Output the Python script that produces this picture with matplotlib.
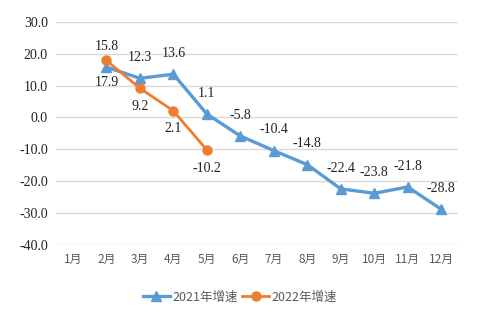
import matplotlib.pyplot as plt

months = ["1月", "2月", "3月", "4月", "5月", "6月", "7月", "8月", "9月", "10月", "11月", "12月"]
x21 = ["2月", "3月", "4月", "5月", "6月", "7月", "8月", "9月", "10月", "11月", "12月"]
y21 = [15.8, 12.3, 13.6, 1.1, -5.8, -10.4, -14.8, -22.4, -23.8, -21.8, -28.8]
x22 = ["2月", "3月", "4月", "5月"]
y22 = [17.9, 9.2, 2.1, -10.2]
yticks = [30, 20, 10, 0, -10, -20, -30, -40]

blue = "#5B9BD5"
orange = "#ED7D31"

plt.rcParams['font.family'] = ['Noto Sans CJK SC', 'DejaVu Sans']

fig = plt.figure(figsize=(4.8, 3.27), dpi=100)
ax = fig.add_axes([0.117, 0.251, 0.837, 0.682])

pos = {m: i for i, m in enumerate(months)}
p21 = [pos[m] for m in x21]
p22 = [pos[m] for m in x22]

ax.plot(p21, y21, color=blue, lw=2.4, marker="^", ms=7, label="2021年增速", zorder=3)
ax.plot(p22, y22, color=orange, lw=2.0, marker="o", ms=6.5, label="2022年增速", zorder=4)

for xi, yi in zip(p21, y21):
    ax.annotate(f"{yi:.1f}", (xi, yi), xytext=(0, 15), textcoords="offset points",
                ha="center", va="center", fontsize=10, family="Liberation Serif", color="#222222")
for i, (xi, yi) in enumerate(zip(p22, y22)):
    dy = -16 if i == 0 else -13
    ax.annotate(f"{yi:.1f}", (xi, yi), xytext=(0, dy), textcoords="offset points",
                ha="center", va="center", fontsize=10, family="Liberation Serif", color="#222222")

ax.set_xlim(-0.5, 11.5)
ax.set_ylim(-40, 30)
ax.set_xticks(range(len(months)))
ax.set_xticklabels(months, fontsize=8.5, color="#595959")
ax.set_yticks(yticks)
ax.set_yticklabels([f"{v:.1f}" for v in yticks], fontsize=10, family="Liberation Serif", color="#222222")
ax.tick_params(length=0, pad=6)
ax.grid(axis="y", color="#D9D9D9", lw=1)
ax.set_axisbelow(True)
for s in ax.spines.values():
    s.set_visible(False)

fig.legend(loc="center", bbox_to_anchor=(0.50, 0.092), ncol=2, frameon=False,
           fontsize=9, labelcolor="#595959", handlelength=2.2, columnspacing=0.3,
           handletextpad=0.2)

fig.savefig("out.png", dpi=100)
